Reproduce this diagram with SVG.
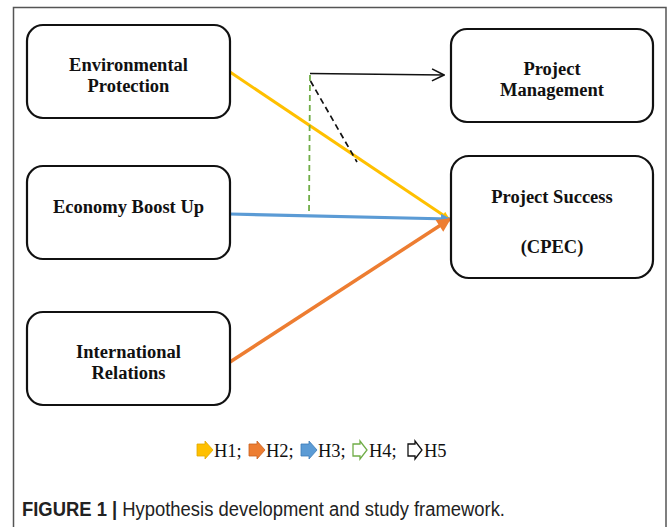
<svg xmlns="http://www.w3.org/2000/svg" width="669" height="527" viewBox="0 0 669 527">
<style>
.box{fill:#fff;stroke:#111;stroke-width:2.2}
.lbl{font-family:"Liberation Serif","Times New Roman",serif;font-weight:bold;font-size:18.5px;fill:#111;text-anchor:middle}
.leg{font-family:"Liberation Serif","Times New Roman",serif;font-size:18.5px;fill:#111}
.cap{font-family:"Liberation Sans",Arial,sans-serif;font-size:20px;fill:#222}
</style>
<defs>
<marker id="mY" viewBox="0 0 10 10" refX="9" refY="5" markerWidth="10" markerHeight="8" markerUnits="userSpaceOnUse" orient="auto"><path d="M0,0 L10,5 L0,10 Z" fill="#FFC000"/></marker>
<marker id="mB" viewBox="0 0 10 10" refX="9" refY="5" markerWidth="12" markerHeight="10" markerUnits="userSpaceOnUse" orient="auto"><path d="M0,0 L10,5 L0,10 Z" fill="#5B9BD5"/></marker>
<marker id="mO" viewBox="0 0 10 10" refX="9" refY="5" markerWidth="16" markerHeight="14" markerUnits="userSpaceOnUse" orient="auto"><path d="M0,0 L10,5 L0,10 Z" fill="#ED7D31"/></marker>
<marker id="mK" viewBox="0 0 14 14" refX="13" refY="7" markerWidth="14" markerHeight="14" markerUnits="userSpaceOnUse" orient="auto"><path d="M1,1 L13,7 L1,13" fill="none" stroke="#111" stroke-width="1.6"/></marker>
</defs>
<rect width="669" height="527" fill="#fff"/>
<path d="M13.5,527 V7.5 H666 V527" fill="none" stroke="#555" stroke-width="1.5"/>

<g id="connectors">
<line x1="230" y1="72" x2="449" y2="219" stroke="#FFC000" stroke-width="3" marker-end="url(#mY)"/>
<line x1="230" y1="214" x2="450" y2="219" stroke="#5B9BD5" stroke-width="3.2" marker-end="url(#mB)"/>
<line x1="230" y1="362" x2="450" y2="219" stroke="#ED7D31" stroke-width="3.5" marker-end="url(#mO)"/>
<path d="M310,73.5 L444,75" fill="none" stroke="#111" stroke-width="1.5" marker-end="url(#mK)"/>
<line x1="310" y1="75" x2="309" y2="214" stroke="#70AD47" stroke-width="1.8" stroke-dasharray="6,4"/>
<line x1="310.5" y1="81" x2="357" y2="162" stroke="#111" stroke-width="1.7" stroke-dasharray="6,4"/>
</g>

<g id="env"><rect class="box" x="27" y="25" width="203" height="93" rx="16"/><text class="lbl" x="128.5" y="71">Environmental</text><text class="lbl" x="128.5" y="92">Protection</text></g>
<g id="eco"><rect class="box" x="27" y="166" width="203" height="93" rx="16"/><text class="lbl" x="128.5" y="213">Economy Boost Up</text></g>
<g id="intl"><rect class="box" x="27" y="312" width="203" height="93" rx="16"/><text class="lbl" x="128.5" y="358">International</text><text class="lbl" x="128.5" y="379">Relations</text></g>
<g id="pm"><rect class="box" x="451" y="29" width="202" height="93" rx="16"/><text class="lbl" x="552" y="75">Project</text><text class="lbl" x="552" y="96">Management</text></g>
<g id="ps"><rect class="box" x="451" y="156" width="202" height="122" rx="18"/><text class="lbl" x="552" y="203">Project Success</text><text class="lbl" x="552" y="253">(CPEC)</text></g>

<g id="legend">
<path d="M197,444 H205 V441 L213,450 L205,459 V456 H197 Z" fill="#FFC000" stroke="#E0A800" stroke-width="0.8"/>
<text class="leg" x="214" y="457">H1;</text>
<path d="M249,444 H257 V441 L265,450 L257,459 V456 H249 Z" fill="#ED7D31" stroke="#C8601E" stroke-width="0.8"/>
<text class="leg" x="266" y="457">H2;</text>
<path d="M301,444 H309 V441 L317,450 L309,459 V456 H301 Z" fill="#5B9BD5" stroke="#3E7CB8" stroke-width="0.8"/>
<text class="leg" x="318" y="457">H3;</text>
<path d="M353,444 H360 V441 L367,450 L360,459 V456 H353 Z" fill="none" stroke="#70AD47" stroke-width="1.3"/>
<text class="leg" x="369" y="457">H4;</text>
<path d="M408,444 H415 V441 L422,450 L415,459 V456 H408 Z" fill="none" stroke="#111" stroke-width="1.3"/>
<text class="leg" x="424" y="457">H5</text>
</g>

<text class="cap" x="22" y="516" textLength="483" lengthAdjust="spacingAndGlyphs"><tspan font-weight="bold">FIGURE 1 | </tspan>Hypothesis development and study framework.</text>
</svg>
